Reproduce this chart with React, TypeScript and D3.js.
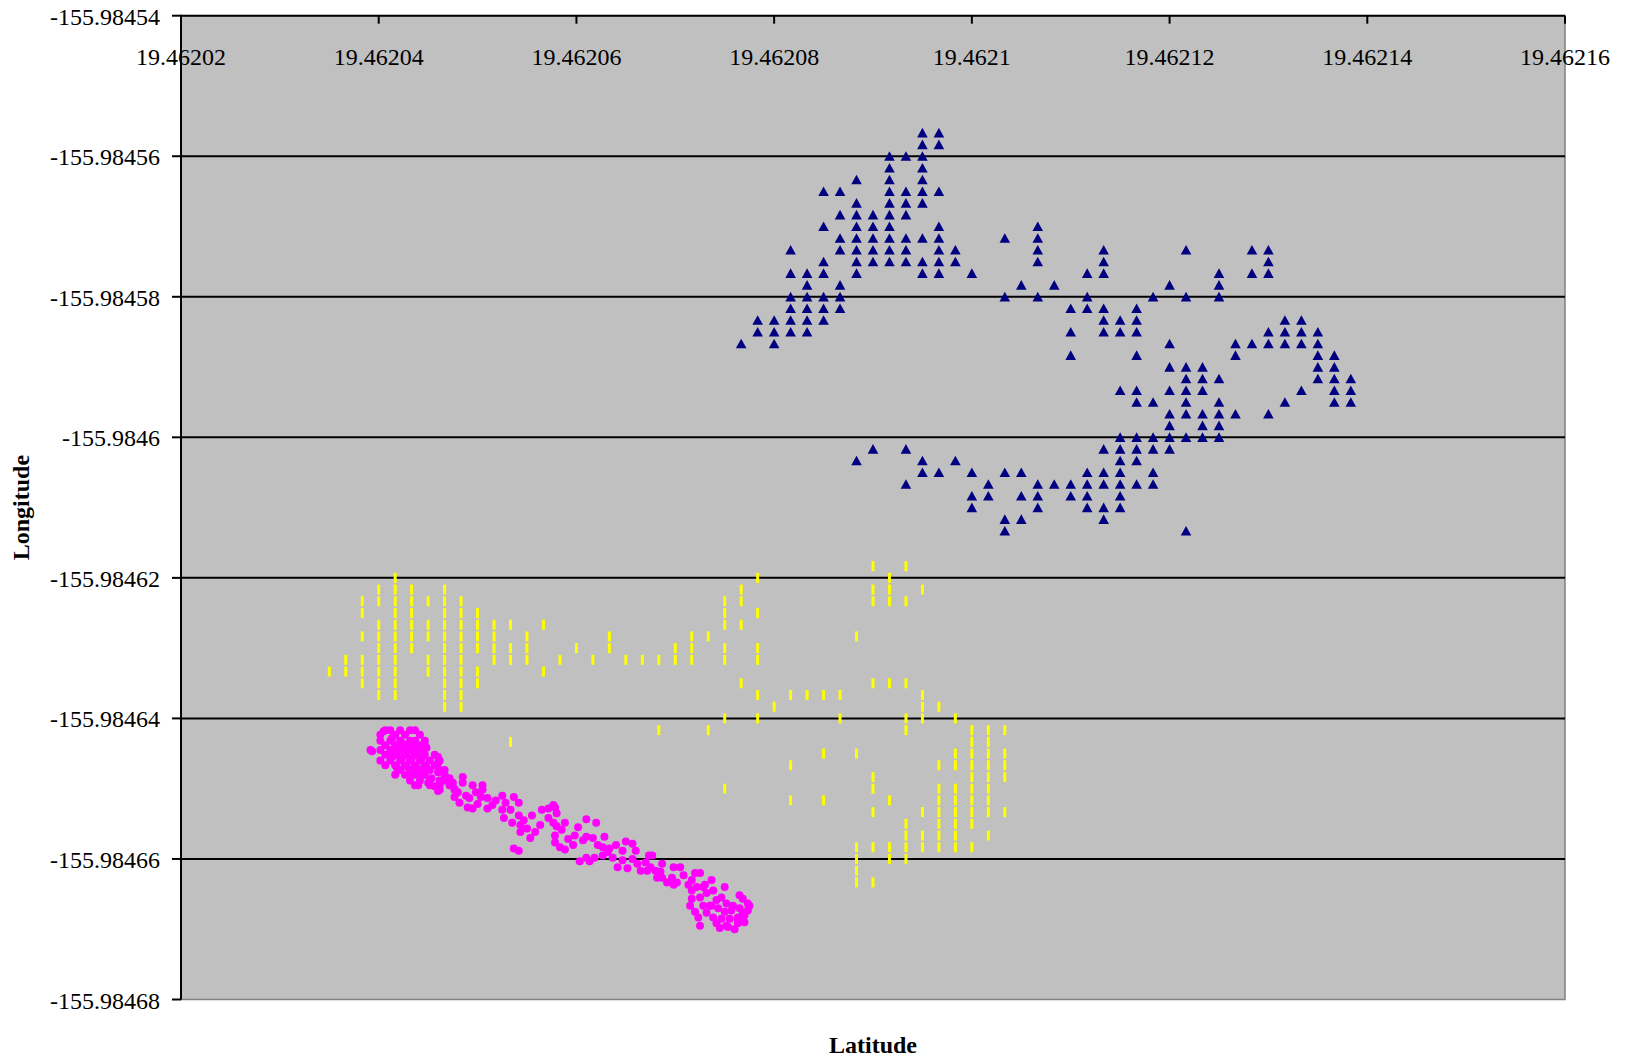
import React from 'react';
import * as d3 from 'd3';

// Axis ticks (degrees) and their printed labels
const xTickValues = [19.46202, 19.46204, 19.46206, 19.46208, 19.4621, 19.46212, 19.46214, 19.46216];
const xTickLabels = ['19.46202', '19.46204', '19.46206', '19.46208', '19.4621', '19.46212', '19.46214', '19.46216'];
const yTickValues = [-155.98454, -155.98456, -155.98458, -155.9846, -155.98462, -155.98464, -155.98466, -155.98468];
const yTickLabels = ['-155.98454', '-155.98456', '-155.98458', '-155.9846', '-155.98462', '-155.98464', '-155.98466', '-155.98468'];

// GPS fixes in degree-minutes: latitude = 19° + minutes, longitude = -(155° + minutes)
// Series 1 (navy triangles): [lat minutes, [lon minutes ...]]
const triangleColumns: [number, number[]][] = [
  [27.7246, [59.0752]],
  [27.7247, [59.0750, 59.0751]],
  [27.7248, [59.0750, 59.0751, 59.0752]],
  [27.7249, [59.0744, 59.0746, 59.0748, 59.0749, 59.0750, 59.0751]],
  [27.7250, [59.0746, 59.0747, 59.0748, 59.0749, 59.0750, 59.0751]],
  [27.7251, [59.0739, 59.0742, 59.0745, 59.0746, 59.0748, 59.0749, 59.0750]],
  [27.7252, [59.0739, 59.0741, 59.0743, 59.0744, 59.0747, 59.0748, 59.0749]],
  [27.7253, [59.0738, 59.0740, 59.0741, 59.0742, 59.0743, 59.0744, 59.0745, 59.0746, 59.0762]],
  [27.7254, [59.0741, 59.0742, 59.0743, 59.0744, 59.0745, 59.0761]],
  [27.7255, [59.0736, 59.0737, 59.0738, 59.0739, 59.0740, 59.0741, 59.0742, 59.0743, 59.0744, 59.0745]],
  [27.7256, [59.0736, 59.0739, 59.0740, 59.0741, 59.0743, 59.0744, 59.0745, 59.0761, 59.0764]],
  [27.7257, [59.0734, 59.0735, 59.0736, 59.0737, 59.0738, 59.0739, 59.0740, 59.0743, 59.0745, 59.0746, 59.0762, 59.0763]],
  [27.7258, [59.0734, 59.0735, 59.0739, 59.0742, 59.0743, 59.0744, 59.0745, 59.0746, 59.0763]],
  [27.7259, [59.0744, 59.0745, 59.0762]],
  [27.7260, [59.0746, 59.0763, 59.0765, 59.0766]],
  [27.7261, [59.0764, 59.0765]],
  [27.7262, [59.0743, 59.0748, 59.0763, 59.0767, 59.0768]],
  [27.7263, [59.0747, 59.0763, 59.0765, 59.0767]],
  [27.7264, [59.0742, 59.0743, 59.0744, 59.0745, 59.0748, 59.0764, 59.0765, 59.0766]],
  [27.7265, [59.0747, 59.0764]],
  [27.7266, [59.0749, 59.0751, 59.0753, 59.0764, 59.0765]],
  [27.7267, [59.0746, 59.0748, 59.0749, 59.0763, 59.0764, 59.0765, 59.0766]],
  [27.7268, [59.0744, 59.0745, 59.0746, 59.0749, 59.0750, 59.0751, 59.0761, 59.0763, 59.0764, 59.0766, 59.0767]],
  [27.7269, [59.0750, 59.0751, 59.0756, 59.0760, 59.0761, 59.0762, 59.0763, 59.0764, 59.0765, 59.0766]],
  [27.7270, [59.0749, 59.0750, 59.0751, 59.0753, 59.0756, 59.0757, 59.0760, 59.0761, 59.0762, 59.0764]],
  [27.7271, [59.0748, 59.0757, 59.0760, 59.0761, 59.0763, 59.0764]],
  [27.7272, [59.0747, 59.0752, 59.0754, 59.0756, 59.0758, 59.0759, 59.0760, 59.0761]],
  [27.7273, [59.0744, 59.0748, 59.0754, 59.0755, 59.0756, 59.0757, 59.0758, 59.0760, 59.0768]],
  [27.7274, [59.0754, 59.0755, 59.0756, 59.0758, 59.0759, 59.0760]],
  [27.7275, [59.0746, 59.0747, 59.0748, 59.0755, 59.0757, 59.0758, 59.0759, 59.0760]],
  [27.7276, [59.0752, 59.0753, 59.0758]],
  [27.7277, [59.0744, 59.0746, 59.0752]],
  [27.7278, [59.0744, 59.0745, 59.0746, 59.0751, 59.0752, 59.0758]],
  [27.7279, [59.0750, 59.0751, 59.0752, 59.0757]],
  [27.7280, [59.0750, 59.0751, 59.0752, 59.0756]],
  [27.7281, [59.0751, 59.0752, 59.0753, 59.0754, 59.0755]],
  [27.7282, [59.0753, 59.0754, 59.0755, 59.0756, 59.0757]],
  [27.7283, [59.0755, 59.0756, 59.0757]],
];

// Series 2 (yellow dashes): [lat minutes, [lon minutes ...]]
const dashColumns: [number, number[]][] = [
  [27.7221, [59.0780]],
  [27.7222, [59.0779, 59.0780]],
  [27.7223, [59.0774, 59.0775, 59.0777, 59.0779, 59.0780, 59.0781]],
  [27.7224, [59.0773, 59.0774, 59.0776, 59.0777, 59.0778, 59.0779, 59.0780, 59.0781, 59.0782]],
  [27.7225, [59.0772, 59.0773, 59.0774, 59.0775, 59.0776, 59.0777, 59.0778, 59.0779, 59.0780, 59.0781, 59.0782]],
  [27.7226, [59.0773, 59.0774, 59.0775, 59.0776, 59.0777, 59.0778]],
  [27.7227, [59.0774, 59.0776, 59.0777, 59.0779, 59.0780]],
  [27.7228, [59.0773, 59.0774, 59.0775, 59.0776, 59.0777, 59.0778, 59.0779, 59.0780, 59.0781, 59.0782, 59.0783]],
  [27.7229, [59.0774, 59.0775, 59.0776, 59.0777, 59.0778, 59.0779, 59.0780, 59.0781, 59.0782, 59.0783]],
  [27.7230, [59.0775, 59.0776, 59.0777, 59.0778, 59.0780, 59.0781]],
  [27.7231, [59.0776, 59.0777, 59.0778, 59.0779]],
  [27.7232, [59.0776, 59.0778, 59.0779, 59.0786]],
  [27.7233, [59.0777, 59.0778, 59.0779]],
  [27.7234, [59.0776, 59.0780]],
  [27.7235, [59.0779]],
  [27.7236, [59.0778]],
  [27.7237, [59.0779]],
  [27.7238, [59.0777, 59.0778]],
  [27.7239, [59.0779]],
  [27.7240, [59.0779]],
  [27.7241, [59.0779, 59.0785]],
  [27.7242, [59.0778, 59.0779]],
  [27.7243, [59.0777, 59.0778, 59.0779]],
  [27.7244, [59.0777, 59.0785]],
  [27.7245, [59.0774, 59.0775, 59.0776, 59.0778, 59.0779, 59.0784, 59.0790]],
  [27.7246, [59.0773, 59.0774, 59.0776, 59.0781]],
  [27.7247, [59.0772, 59.0775, 59.0778, 59.0779, 59.0782, 59.0784]],
  [27.7248, [59.0783]],
  [27.7249, [59.0782, 59.0788, 59.0791]],
  [27.7250, [59.0782]],
  [27.7251, [59.0782, 59.0787, 59.0791]],
  [27.7252, [59.0782, 59.0784]],
  [27.7253, [59.0777, 59.0787, 59.0795, 59.0796, 59.0797, 59.0798]],
  [27.7254, [59.0771, 59.0773, 59.0774, 59.0781, 59.0789, 59.0790, 59.0792, 59.0795, 59.0798]],
  [27.7255, [59.0772, 59.0773, 59.0774, 59.0781, 59.0791, 59.0795, 59.0796]],
  [27.7256, [59.0771, 59.0774, 59.0781, 59.0784, 59.0785, 59.0793, 59.0794, 59.0795, 59.0796]],
  [27.7257, [59.0773, 59.0782, 59.0783, 59.0784, 59.0792, 59.0794, 59.0795]],
  [27.7258, [59.0783, 59.0788, 59.0790, 59.0791, 59.0792, 59.0793, 59.0794, 59.0795]],
  [27.7259, [59.0784, 59.0787, 59.0788, 59.0790, 59.0791, 59.0792, 59.0793, 59.0794, 59.0795]],
  [27.7260, [59.0785, 59.0786, 59.0787, 59.0788, 59.0789, 59.0790, 59.0791, 59.0792, 59.0793, 59.0795]],
  [27.7261, [59.0785, 59.0786, 59.0787, 59.0788, 59.0789, 59.0790, 59.0791, 59.0792, 59.0794]],
  [27.7262, [59.0785, 59.0787, 59.0788, 59.0789, 59.0792]],
];

// Series 3 (magenta dots): [lat minutes, lon minutes]
const dotPoints: [number, number][] = [
  [27.72244, 59.07850], [27.72247, 59.07850], [27.72253, 59.07850], [27.72259, 59.07850], [27.72262, 59.07850],
  [27.72241, 59.07854], [27.72250, 59.07854], [27.72256, 59.07854], [27.72265, 59.07854],
  [27.72241, 59.07859], [27.72247, 59.07859], [27.72253, 59.07859], [27.72259, 59.07859], [27.72262, 59.07859], [27.72268, 59.07859],
  [27.72244, 59.07863], [27.72250, 59.07863], [27.72256, 59.07863], [27.72262, 59.07863], [27.72265, 59.07863], [27.72268, 59.07863],
  [27.72235, 59.07867], [27.72241, 59.07867], [27.72247, 59.07867], [27.72253, 59.07867], [27.72259, 59.07867], [27.72265, 59.07867],
  [27.72244, 59.07871], [27.72250, 59.07871], [27.72256, 59.07871], [27.72262, 59.07871], [27.72268, 59.07871], [27.72274, 59.07871],
  [27.72241, 59.07876], [27.72247, 59.07876], [27.72253, 59.07876], [27.72259, 59.07876], [27.72265, 59.07876], [27.72271, 59.07876], [27.72277, 59.07876],
  [27.72244, 59.07880], [27.72250, 59.07880], [27.72256, 59.07880], [27.72262, 59.07880], [27.72268, 59.07880], [27.72274, 59.07880],
  [27.72253, 59.07884], [27.72259, 59.07884], [27.72265, 59.07884], [27.72271, 59.07884], [27.72277, 59.07884],
  [27.72250, 59.07888], [27.72256, 59.07888], [27.72262, 59.07888], [27.72268, 59.07888], [27.72280, 59.07888],
  [27.72259, 59.07893], [27.72265, 59.07893], [27.72271, 59.07893], [27.72277, 59.07893], [27.72280, 59.07893],
  [27.72262, 59.07897], [27.72271, 59.07897], [27.72277, 59.07897], [27.72283, 59.07897],
  [27.72277, 59.07901], [27.72286, 59.07901],
  [27.72248, 59.07857], [27.72254, 59.07861], [27.72260, 59.07861], [27.72251, 59.07869], [27.72257, 59.07869],
  [27.72263, 59.07869], [27.72248, 59.07873], [27.72254, 59.07874], [27.72260, 59.07874], [27.72266, 59.07874],
  [27.72251, 59.07882], [27.72257, 59.07881], [27.72263, 59.07882], [27.72269, 59.07882], [27.72260, 59.07887],
  [27.72266, 59.07887], [27.72272, 59.07891], [27.72264, 59.07897], [27.72274, 59.07898],
  [27.72269, 59.07865], [27.72276, 59.07873], [27.72276, 59.07878], [27.72276, 59.07886], [27.72270, 59.07895],
  [27.72276, 59.07902], [27.72282, 59.07893], [27.72236, 59.07868], [27.72243, 59.07851],
  [27.72285, 59.07895], [27.72286, 59.07900], [27.72286, 59.07907], [27.72289, 59.07912], [27.72291, 59.07890],
  [27.72291, 59.07895], [27.72297, 59.07897], [27.72303, 59.07897], [27.72303, 59.07901], [27.72299, 59.07903],
  [27.72295, 59.07908], [27.72294, 59.07916], [27.72297, 59.07917], [27.72300, 59.07913], [27.72306, 59.07908],
  [27.72306, 59.07917], [27.72309, 59.07914], [27.72315, 59.07906], [27.72317, 59.07912], [27.72315, 59.07918],
  [27.72316, 59.07925], [27.72321, 59.07929], [27.72322, 59.07907], [27.72325, 59.07912], [27.72325, 59.07923],
  [27.72328, 59.07927], [27.72326, 59.07931], [27.72326, 59.07937], [27.72332, 59.07942], [27.72322, 59.07951],
  [27.72325, 59.07953], [27.72333, 59.07923], [27.72338, 59.07931], [27.72339, 59.07918], [27.72343, 59.07917],
  [27.72347, 59.07916], [27.72346, 59.07929], [27.72347, 59.07940], [27.72346, 59.07914], [27.72348, 59.07921],
  [27.72348, 59.07932], [27.72353, 59.07929], [27.72347, 59.07946], [27.72350, 59.07950], [27.72353, 59.07952],
  [27.72355, 59.07943], [27.72358, 59.07948], [27.72361, 59.07933], [27.72366, 59.07926], [27.72372, 59.07929],
  [27.72364, 59.07944], [27.72366, 59.07941], [27.72370, 59.07942], [27.72377, 59.07941], [27.72362, 59.07962],
  [27.72366, 59.07959], [27.72368, 59.07962], [27.72371, 59.07959], [27.72376, 59.07957], [27.72376, 59.07950],
  [27.72379, 59.07954], [27.72382, 59.07959], [27.72384, 59.07948], [27.72388, 59.07953], [27.72390, 59.07945],
  [27.72394, 59.07947], [27.72396, 59.07953], [27.72385, 59.07967], [27.72391, 59.07968], [27.72388, 59.07961],
  [27.72394, 59.07960], [27.72397, 59.07964], [27.72399, 59.07970], [27.72404, 59.07957], [27.72406, 59.07957],
  [27.72405, 59.07967], [27.72403, 59.07970], [27.72408, 59.07970], [27.72412, 59.07964], [27.72409, 59.07976],
  [27.72412, 59.07976], [27.72415, 59.07980], [27.72418, 59.07976], [27.72419, 59.07967], [27.72423, 59.07967],
  [27.72419, 59.07982], [27.72421, 59.07980], [27.72425, 59.07974], [27.72430, 59.07978], [27.72432, 59.07972],
  [27.72435, 59.07972], [27.72433, 59.07984], [27.72430, 59.07987], [27.72437, 59.07984], [27.72442, 59.07978],
  [27.72430, 59.07994], [27.72435, 59.07993], [27.72439, 59.07989], [27.72443, 59.07987], [27.72450, 59.07984],
  [27.72459, 59.07991], [27.72434, 59.08010], [27.72435, 59.08017], [27.72439, 59.08006], [27.72442, 59.08000],
  [27.72445, 59.07995], [27.72448, 59.07993], [27.72451, 59.07998], [27.72454, 59.08004], [27.72458, 59.08010],
  [27.72461, 59.08006], [27.72464, 59.07998], [27.72445, 59.08015], [27.72451, 59.08017], [27.72458, 59.08015],
  [27.72441, 59.08000], [27.72446, 59.08002], [27.72450, 59.08005], [27.72455, 59.08000], [27.72459, 59.08002],
  [27.72462, 59.08008], [27.72443, 59.08010], [27.72448, 59.08011], [27.72453, 59.08011], [27.72458, 59.08012],
  [27.72462, 59.08014], [27.72447, 59.08019], [27.72452, 59.08018], [27.72456, 59.08020], [27.72437, 59.08000],
  [27.72464, 59.08004],
  [27.72280, 59.07884], [27.72283, 59.07891], [27.72288, 59.07903], [27.72293, 59.07906], [27.72302, 59.07907],
  [27.72311, 59.07910], [27.72320, 59.07918], [27.72330, 59.07934], [27.72335, 59.07937], [27.72343, 59.07925],
  [27.72351, 59.07935], [27.72359, 59.07940], [27.72373, 59.07948], [27.72380, 59.07951], [27.72402, 59.07963],
  [27.72411, 59.07971], [27.72428, 59.07982], [27.72438, 59.07982], [27.72429, 59.08000], [27.72432, 59.08005],
  [27.72465, 59.08000], [27.72461, 59.07994],
];

const FONT = "'Liberation Serif', 'Times New Roman', serif";
const W = 1625;
const H = 1062;
const PLOT = { left: 181, right: 1565, top: 15.7, bottom: 999.5 };

const latDeg = (m: number) => 19 + m / 60;
const lonDeg = (m: number) => -(155 + m / 60);

export default function App() {
  const x = d3.scaleLinear().domain([19.46202, 19.46216]).range([PLOT.left, PLOT.right]);
  const y = d3.scaleLinear().domain([-155.98454, -155.98468]).range([PLOT.top, PLOT.bottom]);

  const triangles = triangleColumns.flatMap(([la, lons]) => lons.map((lo) => [latDeg(la), lonDeg(lo)]));
  const dashes = dashColumns.flatMap(([la, lons]) => lons.map((lo) => [latDeg(la), lonDeg(lo)]));
  const dots = dotPoints.map(([la, lo]) => [latDeg(la), lonDeg(lo)]);

  return (
    <div style={{ position: 'absolute', left: 0, top: 0 }}>
      <svg width={W} height={H} style={{ display: 'block', background: '#fff' }}>
        <rect
          x={PLOT.left}
          y={PLOT.top}
          width={PLOT.right - PLOT.left}
          height={PLOT.bottom - PLOT.top}
          fill="#C0C0C0"
          stroke="#808080"
          strokeWidth={1.5}
        />
        {yTickValues.slice(1, -1).map((v, i) => (
          <line key={'g' + i} x1={PLOT.left} x2={PLOT.right} y1={y(v)} y2={y(v)} stroke="#000" strokeWidth={2} />
        ))}
        <g>
          {dashes.map(([la, lo], i) => (
            <rect key={'d' + i} x={x(la) - 1.5} y={y(lo) - 5} width={3} height={10} fill="#FFFF00" />
          ))}
        </g>
        <g>
          {dots.map(([la, lo], i) => (
            <circle key={'c' + i} cx={x(la)} cy={y(lo)} r={4} fill="#FF00FF" />
          ))}
        </g>
        <g>
          {triangles.map(([la, lo], i) => (
            <path
              key={'t' + i}
              transform={`translate(${x(la)},${y(lo)})`}
              d="M0,-5L5.3,4.6L-5.3,4.6Z"
              fill="#000080"
            />
          ))}
        </g>
        <line x1={PLOT.left} x2={PLOT.right} y1={PLOT.top} y2={PLOT.top} stroke="#000" strokeWidth={2} />
        <line x1={PLOT.left} x2={PLOT.left} y1={PLOT.top - 1} y2={PLOT.bottom} stroke="#000" strokeWidth={2} />
        {xTickValues.map((v, i) => (
          <g key={'xt' + i}>
            <line x1={x(v)} x2={x(v)} y1={PLOT.top} y2={PLOT.top + 8} stroke="#000" strokeWidth={2} />
            <text x={x(v)} y={65} textAnchor="middle" fontFamily={FONT} fontSize={24} fill="#000">
              {xTickLabels[i]}
            </text>
          </g>
        ))}
        {yTickValues.map((v, i) => (
          <g key={'yt' + i}>
            <line x1={PLOT.left - 9} x2={PLOT.left} y1={y(v)} y2={y(v)} stroke="#000" strokeWidth={2} />
            <text x={160} y={y(v) + 9} textAnchor="end" fontFamily={FONT} fontSize={24} fill="#000">
              {yTickLabels[i]}
            </text>
          </g>
        ))}
        <text
          transform={`translate(29,${(PLOT.top + PLOT.bottom) / 2}) rotate(-90)`}
          textAnchor="middle"
          fontFamily={FONT}
          fontSize={24}
          fontWeight="bold"
          fill="#000"
        >
          Longitude
        </text>
        <text
          x={(PLOT.left + PLOT.right) / 2}
          y={1053}
          textAnchor="middle"
          fontFamily={FONT}
          fontSize={24}
          fontWeight="bold"
          fill="#000"
        >
          Latitude
        </text>
      </svg>
    </div>
  );
}
